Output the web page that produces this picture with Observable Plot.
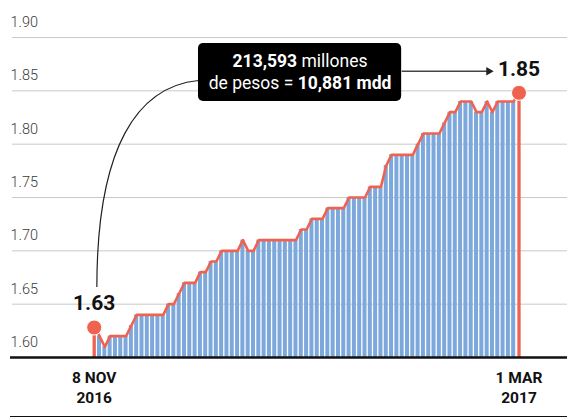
<!DOCTYPE html>
<html><head><meta charset="utf-8">
<script src="https://cdn.jsdelivr.net/npm/d3@7"></script>
<script src="https://cdn.jsdelivr.net/npm/@observablehq/plot@0.6"></script>
<style>
body{margin:0;background:#fff;}
#chart svg{display:block;}
</style></head><body><div id="chart"></div>
<script>
// Daily values, 8 Nov 2016 (first) to 1 Mar 2017 (last)
const values = [
  1.63, 1.62, 1.61, 1.62, 1.62, 1.62, 1.62, 1.63, 1.64, 1.64,
  1.64, 1.64, 1.64, 1.64, 1.65, 1.65, 1.66, 1.67, 1.67, 1.67,
  1.68, 1.68, 1.69, 1.69, 1.70, 1.70, 1.70, 1.70, 1.71, 1.70,
  1.70, 1.71, 1.71, 1.71, 1.71, 1.71, 1.71, 1.71, 1.71, 1.72,
  1.72, 1.73, 1.73, 1.73, 1.74, 1.74, 1.74, 1.74, 1.75, 1.75,
  1.75, 1.75, 1.76, 1.76, 1.76, 1.78, 1.79, 1.79, 1.79, 1.79,
  1.79, 1.80, 1.81, 1.81, 1.81, 1.81, 1.82, 1.83, 1.83, 1.84,
  1.84, 1.84, 1.83, 1.83, 1.84, 1.83, 1.84, 1.84, 1.84, 1.84,
  1.85
];
const xTickLabels = ["8 NOV\n2016", "1 MAR\n2017"];
const yTicks = [1.60, 1.65, 1.70, 1.75, 1.80, 1.85, 1.90];
const calloutLines = ["213,593 millones", "de pesos = 10,881 mdd"];

const data = values.map((v, i) => ({i, v}));
const blue = data.slice(1, -1);
const ends = [data[0], data[data.length - 1]];

const RED = "#F06250", BLUE = "#7DA8DC";
const FONT = "Roboto, 'Noto Sans', sans-serif";

// callout geometry in data units
const box = {x1: 19.64, x2: 57.9, y1: 1.84, y2: 1.8944};
const boxCx = (box.x1 + box.x2) / 2;

// custom curve for the connector (vertical start, sweeping into the box)
function hook(context) {
  let pts = [];
  return {
    areaStart() {}, areaEnd() {},
    lineStart() { pts = []; },
    point(x, y) { pts.push([+x, +y]); },
    lineEnd() {
      const [[x0, y0], [x1, y1]] = pts;
      context.moveTo(x0, y0);
      context.bezierCurveTo(x0, y0 + (y1 - y0) * 0.68, x0 + (x1 - x0) * 0.4, y1 + 6, x1, y1);
    }
  };
}

const chart = Plot.plot({
  width: 567, height: 419,
  marginLeft: 12, marginRight: 0, marginTop: 37, marginBottom: 62,
  x: {domain: [0, values.length - 1], range: [93.7, 518.5], axis: null},
  y: {domain: [1.60, 1.90], axis: null},
  style: {fontFamily: FONT, background: "#fff"},
  marks: [
    Plot.ruleY(yTicks.slice(1), {stroke: "#c9c9c9", strokeWidth: 1}),
    Plot.text(yTicks, {y: d => d, text: d => d.toFixed(2), frameAnchor: "left", textAnchor: "start",
      dx: -2, dy: -15, fontSize: 14.5, fill: "#3a3a3a", fontWeight: 300}),
    Plot.rectY(blue, {x1: d => d.i - 0.5, x2: d => d.i + 0.5, y1: 1.60, y2: "v", fill: BLUE,
      insetLeft: 0.65, insetRight: 0.65}),
    Plot.ruleX(ends, {x: "i", y1: 1.60, y2: "v", stroke: RED, strokeWidth: 3.3}),
    Plot.line(data, {x: "i", y: "v", stroke: RED, strokeWidth: 2.6}),
    Plot.ruleY([1.60], {stroke: "#111", strokeWidth: 2.6, insetLeft: -2}),
    Plot.ruleY([1.60], {stroke: "#111", strokeWidth: 1.2, dy: 59, insetLeft: -2}),
    Plot.dot(ends, {x: "i", y: "v", r: 7.5, fill: RED, stroke: "#fff", strokeWidth: 1, dy: 2}),
    Plot.text(ends, {x: "i", y: 1.60, text: (d, k) => xTickLabels[k], lineAnchor: "top", dy: 12,
      fontSize: 15.5, fontWeight: "bold", lineHeight: 1.25, fill: "#111"}),
    Plot.text(ends, {x: "i", y: "v", text: d => d.v.toFixed(2), fontSize: 21, fontWeight: "bold",
      fill: "#111", dy: -22}),
    // connector from "1.63" to callout
    Plot.link([0], {x1: 0.5, y1: 1.666, x2: box.x1, y2: 1.8597, curve: hook, stroke: "#222", strokeWidth: 1.2}),
    // callout box
    Plot.rect([box], {x1: "x1", x2: "x2", y1: "y1", y2: "y2", fill: "#000", rx: 5}),
    Plot.text(calloutLines, {x: boxCx, y: (d, k) => [1.8778, 1.8569][k], text: d => d, fill: "#fff",
      fontSize: 17.5, textAnchor: "middle"}),
    // arrow to 1.85
    Plot.link([0], {x1: box.x2, x2: 74.0, y1: 1.8683, y2: 1.8683, stroke: "#444", strokeWidth: 1.4}),
    Plot.dot([0], {x: 74.3, y: 1.8683, symbol: "triangle", r: 3.2, rotate: 90, fill: "#222", stroke: "none"})
  ]
});

// mixed bold / regular runs inside the callout
const rich = {
  "213,593 millones": [["213,593", true], [" millones", false]],
  "de pesos = 10,881 mdd": [["de pesos = ", false], ["10,881 mdd", true]]
};
d3.select(chart).selectAll("text").each(function () {
  const parts = rich[this.textContent];
  if (parts) {
    const t = d3.select(this).style("white-space", "pre");
    t.text(null);
    parts.forEach(([s, b]) => t.append("tspan").attr("font-weight", b ? "bold" : "normal").text(s));
  }
});

document.getElementById("chart").appendChild(chart);
</script>
</body></html>
